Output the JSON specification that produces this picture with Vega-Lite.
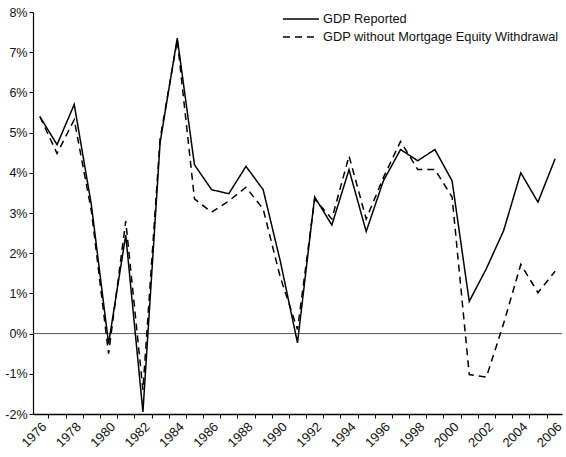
{
  "$schema": "https://vega.github.io/schema/vega-lite/v6.json",
  "autosize": "none",
  "width": 529,
  "height": 402,
  "padding": {"left": 33, "top": 12, "right": 4, "bottom": 43},
  "background": "white",
  "config": {
    "view": {"stroke": null},
    "font": "Liberation Sans",
    "axis": {"labelFont": "Liberation Sans", "labelColor": "#111", "labelFontSize": 12.5, "domainColor": "#000", "tickColor": "#000", "grid": false, "title": null}
  },
  "datasets": {
    "gdp": [
      {"year": 1976, "series": "GDP Reported", "value": 5.4},
      {"year": 1977, "series": "GDP Reported", "value": 4.7},
      {"year": 1978, "series": "GDP Reported", "value": 5.7},
      {"year": 1979, "series": "GDP Reported", "value": 3.2},
      {"year": 1980, "series": "GDP Reported", "value": -0.25},
      {"year": 1981, "series": "GDP Reported", "value": 2.45},
      {"year": 1982, "series": "GDP Reported", "value": -1.95},
      {"year": 1983, "series": "GDP Reported", "value": 4.75},
      {"year": 1984, "series": "GDP Reported", "value": 7.35},
      {"year": 1985, "series": "GDP Reported", "value": 4.2},
      {"year": 1986, "series": "GDP Reported", "value": 3.58},
      {"year": 1987, "series": "GDP Reported", "value": 3.48},
      {"year": 1988, "series": "GDP Reported", "value": 4.16},
      {"year": 1989, "series": "GDP Reported", "value": 3.58},
      {"year": 1990, "series": "GDP Reported", "value": 1.8},
      {"year": 1991, "series": "GDP Reported", "value": -0.23},
      {"year": 1992, "series": "GDP Reported", "value": 3.4},
      {"year": 1993, "series": "GDP Reported", "value": 2.7},
      {"year": 1994, "series": "GDP Reported", "value": 4.08},
      {"year": 1995, "series": "GDP Reported", "value": 2.54},
      {"year": 1996, "series": "GDP Reported", "value": 3.8},
      {"year": 1997, "series": "GDP Reported", "value": 4.58},
      {"year": 1998, "series": "GDP Reported", "value": 4.3},
      {"year": 1999, "series": "GDP Reported", "value": 4.58},
      {"year": 2000, "series": "GDP Reported", "value": 3.8},
      {"year": 2001, "series": "GDP Reported", "value": 0.8},
      {"year": 2002, "series": "GDP Reported", "value": 1.62},
      {"year": 2003, "series": "GDP Reported", "value": 2.56},
      {"year": 2004, "series": "GDP Reported", "value": 4.0},
      {"year": 2005, "series": "GDP Reported", "value": 3.27},
      {"year": 2006, "series": "GDP Reported", "value": 4.35},
      {"year": 1976, "series": "GDP without Mortgage Equity Withdrawal", "value": 5.4},
      {"year": 1977, "series": "GDP without Mortgage Equity Withdrawal", "value": 4.48},
      {"year": 1978, "series": "GDP without Mortgage Equity Withdrawal", "value": 5.32},
      {"year": 1979, "series": "GDP without Mortgage Equity Withdrawal", "value": 3.05},
      {"year": 1980, "series": "GDP without Mortgage Equity Withdrawal", "value": -0.5},
      {"year": 1981, "series": "GDP without Mortgage Equity Withdrawal", "value": 2.8},
      {"year": 1982, "series": "GDP without Mortgage Equity Withdrawal", "value": -1.4},
      {"year": 1983, "series": "GDP without Mortgage Equity Withdrawal", "value": 4.85},
      {"year": 1984, "series": "GDP without Mortgage Equity Withdrawal", "value": 7.3},
      {"year": 1985, "series": "GDP without Mortgage Equity Withdrawal", "value": 3.35},
      {"year": 1986, "series": "GDP without Mortgage Equity Withdrawal", "value": 3.02},
      {"year": 1987, "series": "GDP without Mortgage Equity Withdrawal", "value": 3.3},
      {"year": 1988, "series": "GDP without Mortgage Equity Withdrawal", "value": 3.64},
      {"year": 1989, "series": "GDP without Mortgage Equity Withdrawal", "value": 3.1},
      {"year": 1990, "series": "GDP without Mortgage Equity Withdrawal", "value": 1.4},
      {"year": 1991, "series": "GDP without Mortgage Equity Withdrawal", "value": 0.1},
      {"year": 1992, "series": "GDP without Mortgage Equity Withdrawal", "value": 3.35},
      {"year": 1993, "series": "GDP without Mortgage Equity Withdrawal", "value": 2.85},
      {"year": 1994, "series": "GDP without Mortgage Equity Withdrawal", "value": 4.42},
      {"year": 1995, "series": "GDP without Mortgage Equity Withdrawal", "value": 2.85},
      {"year": 1996, "series": "GDP without Mortgage Equity Withdrawal", "value": 3.88},
      {"year": 1997, "series": "GDP without Mortgage Equity Withdrawal", "value": 4.78},
      {"year": 1998, "series": "GDP without Mortgage Equity Withdrawal", "value": 4.08},
      {"year": 1999, "series": "GDP without Mortgage Equity Withdrawal", "value": 4.08},
      {"year": 2000, "series": "GDP without Mortgage Equity Withdrawal", "value": 3.4},
      {"year": 2001, "series": "GDP without Mortgage Equity Withdrawal", "value": -1.02},
      {"year": 2002, "series": "GDP without Mortgage Equity Withdrawal", "value": -1.08},
      {"year": 2003, "series": "GDP without Mortgage Equity Withdrawal", "value": 0.25},
      {"year": 2004, "series": "GDP without Mortgage Equity Withdrawal", "value": 1.72},
      {"year": 2005, "series": "GDP without Mortgage Equity Withdrawal", "value": 1.02},
      {"year": 2006, "series": "GDP without Mortgage Equity Withdrawal", "value": 1.55}
    ],
    "zero": [{"y": 0}]
  },
  "layer": [
    {
      "data": {"name": "zero"},
      "mark": {"type": "rule", "color": "#555", "strokeWidth": 1},
      "encoding": {
        "y": {"field": "y", "type": "quantitative", "scale": {"domain": [-2, 8], "nice": false, "zero": false}}
      }
    },
    {
      "data": {"name": "gdp"},
      "mark": {"type": "line", "color": "#000", "strokeWidth": 1.5},
      "encoding": {
        "x": {
          "field": "year", "type": "quantitative",
          "scale": {"domain": [1975.6, 2006.4], "nice": false, "zero": false},
          "axis": {
            "values": [1976, 1976.5, 1977.5, 1978, 1978.5, 1979.5, 1980, 1980.5, 1981.5, 1982, 1982.5, 1983.5, 1984, 1984.5, 1985.5, 1986, 1986.5, 1987.5, 1988, 1988.5, 1989.5, 1990, 1990.5, 1991.5, 1992, 1992.5, 1993.5, 1994, 1994.5, 1995.5, 1996, 1996.5, 1997.5, 1998, 1998.5, 1999.5, 2000, 2000.5, 2001.5, 2002, 2002.5, 2003.5, 2004, 2004.5, 2005.5, 2006],
            "labelExpr": "datum.value % 2 === 0 ? toString(datum.value) : ''",
            "labelOverlap": false,
            "labelFlush": false,
            "labelAngle": -45,
            "labelAlign": "right",
            "labelBaseline": "top",
            "labelPadding": 2,
            "labelFontSize": 13,
            "domainWidth": 1.5,
            "tickSize": 4,
            "tickOpacity": {"condition": {"test": "datum.value % 1 !== 0", "value": 1}, "value": 0}
          }
        },
        "y": {
          "field": "value", "type": "quantitative",
          "scale": {"domain": [-2, 8], "nice": false, "zero": false},
          "axis": {
            "values": [-2, -1, 0, 1, 2, 3, 4, 5, 6, 7, 8],
            "labelExpr": "datum.value + '%'",
            "tickSize": 4,
            "labelPadding": 2,
            "domainWidth": 1.2
          }
        },
        "strokeDash": {
          "field": "series", "type": "nominal",
          "scale": {"domain": ["GDP Reported", "GDP without Mortgage Equity Withdrawal"], "range": [[1, 0], [7, 5]]},
          "legend": {
            "title": null,
            "orient": "none",
            "legendX": 249,
            "legendY": 0,
            "symbolType": "stroke",
            "symbolSize": 1296,
            "symbolStrokeWidth": 1.4,
            "symbolStrokeColor": "#000",
            "labelFont": "Liberation Sans",
            "labelFontSize": 12.8,
            "labelColor": "#111",
            "labelLimit": 0,
            "clipHeight": 14,
            "rowPadding": 4,
            "labelOffset": 3
          }
        },
        "detail": {"field": "series"}
      }
    }
  ]
}
